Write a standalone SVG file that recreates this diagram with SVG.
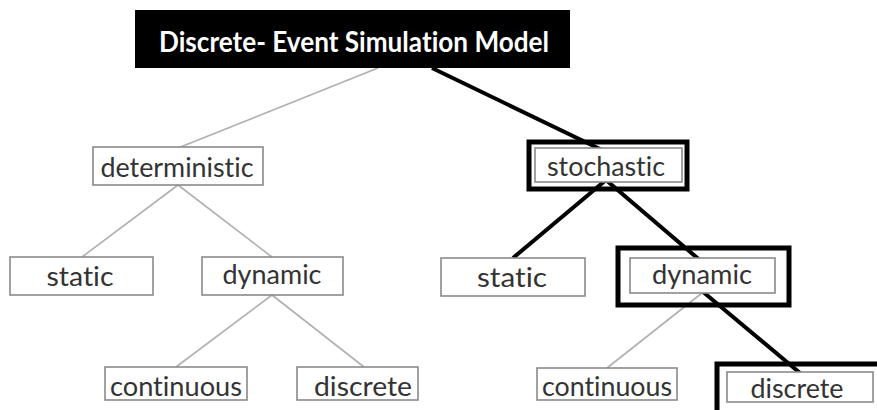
<svg xmlns="http://www.w3.org/2000/svg" width="877" height="410" viewBox="0 0 877 410">
<style>
.box{fill:#fff;stroke:#8a8a8a;stroke-width:1.6}
.frame{fill:none;stroke:#000;stroke-width:5}
.lbl{font-family:Lato,"Open Sans","Liberation Sans",sans-serif;font-size:26px;fill:#333;text-anchor:middle;font-variant-ligatures:none}
.thin{stroke:#b0b0b0;stroke-width:1.6;fill:none}
.thick{stroke:#000;stroke-width:4;fill:none}
</style>
<rect width="877" height="410" fill="#fff"/>
<g id="connectors">
<line class="thin" x1="378" y1="68" x2="178" y2="148"/>
<line class="thin" x1="178" y1="185" x2="82" y2="257"/>
<line class="thin" x1="178" y1="185" x2="272" y2="257"/>
<line class="thin" x1="272" y1="295" x2="176" y2="367"/>
<line class="thin" x1="272" y1="295" x2="364" y2="367"/>
<line class="thin" x1="702" y1="293" x2="607" y2="368"/>
<line class="thick" x1="432" y1="68" x2="602" y2="150"/>
<line class="thick" x1="606" y1="180" x2="513" y2="258"/>
<line class="thick" x1="606" y1="180" x2="702" y2="262"/>
<line class="thick" x1="702" y1="291" x2="800" y2="373"/>
</g>
<g id="root">
<rect x="135" y="10" width="435" height="58" fill="#000"/>
<text x="354" y="52" font-family="Lato,'Open Sans','Liberation Sans',sans-serif" font-size="29" font-weight="bold" fill="#fff" text-anchor="middle" textLength="390" lengthAdjust="spacingAndGlyphs" style="font-variant-ligatures:none">Discrete- Event Simulation Model</text>
</g>
<g id="deterministic">
<rect class="box" x="93" y="147" width="170" height="38"/>
<text class="lbl" x="177" y="177" textLength="153" lengthAdjust="spacingAndGlyphs">deterministic</text>
</g>
<g id="stochastic">
<rect class="frame" x="529" y="142" width="158" height="47"/>
<rect class="box" x="535" y="148" width="147" height="34"/>
<text class="lbl" x="606" y="176" textLength="118" lengthAdjust="spacingAndGlyphs">stochastic</text>
</g>
<g id="static-left">
<rect class="box" x="10" y="257" width="143" height="38"/>
<text class="lbl" x="80" y="286" textLength="67" lengthAdjust="spacingAndGlyphs">static</text>
</g>
<g id="dynamic-left">
<rect class="box" x="202" y="257" width="141" height="38"/>
<text class="lbl" x="272" y="284" textLength="99" lengthAdjust="spacingAndGlyphs">dynamic</text>
</g>
<g id="static-right">
<rect class="box" x="441" y="258" width="144" height="38"/>
<text class="lbl" x="512" y="287" textLength="70" lengthAdjust="spacingAndGlyphs">static</text>
</g>
<g id="dynamic-right">
<rect class="frame" x="618" y="248" width="171" height="57"/>
<rect class="box" x="630" y="258" width="145" height="35"/>
<text class="lbl" x="702" y="284" textLength="100" lengthAdjust="spacingAndGlyphs">dynamic</text>
</g>
<g id="continuous-left">
<rect class="box" x="105" y="367" width="142" height="33"/>
<text class="lbl" x="176" y="396" textLength="132" lengthAdjust="spacingAndGlyphs">continuous</text>
</g>
<g id="discrete-left">
<rect class="box" x="297" y="367" width="121" height="33"/>
<text class="lbl" x="363" y="396" textLength="98" lengthAdjust="spacingAndGlyphs">discrete</text>
</g>
<g id="continuous-right">
<rect class="box" x="537" y="368" width="140" height="32"/>
<text class="lbl" x="607" y="396" textLength="130" lengthAdjust="spacingAndGlyphs">continuous</text>
</g>
<g id="discrete-right">
<rect class="frame" x="717" y="364" width="165" height="60"/>
<rect class="box" x="727" y="372" width="146" height="30"/>
<text class="lbl" x="797" y="398" textLength="93" lengthAdjust="spacingAndGlyphs">discrete</text>
</g>
</svg>
